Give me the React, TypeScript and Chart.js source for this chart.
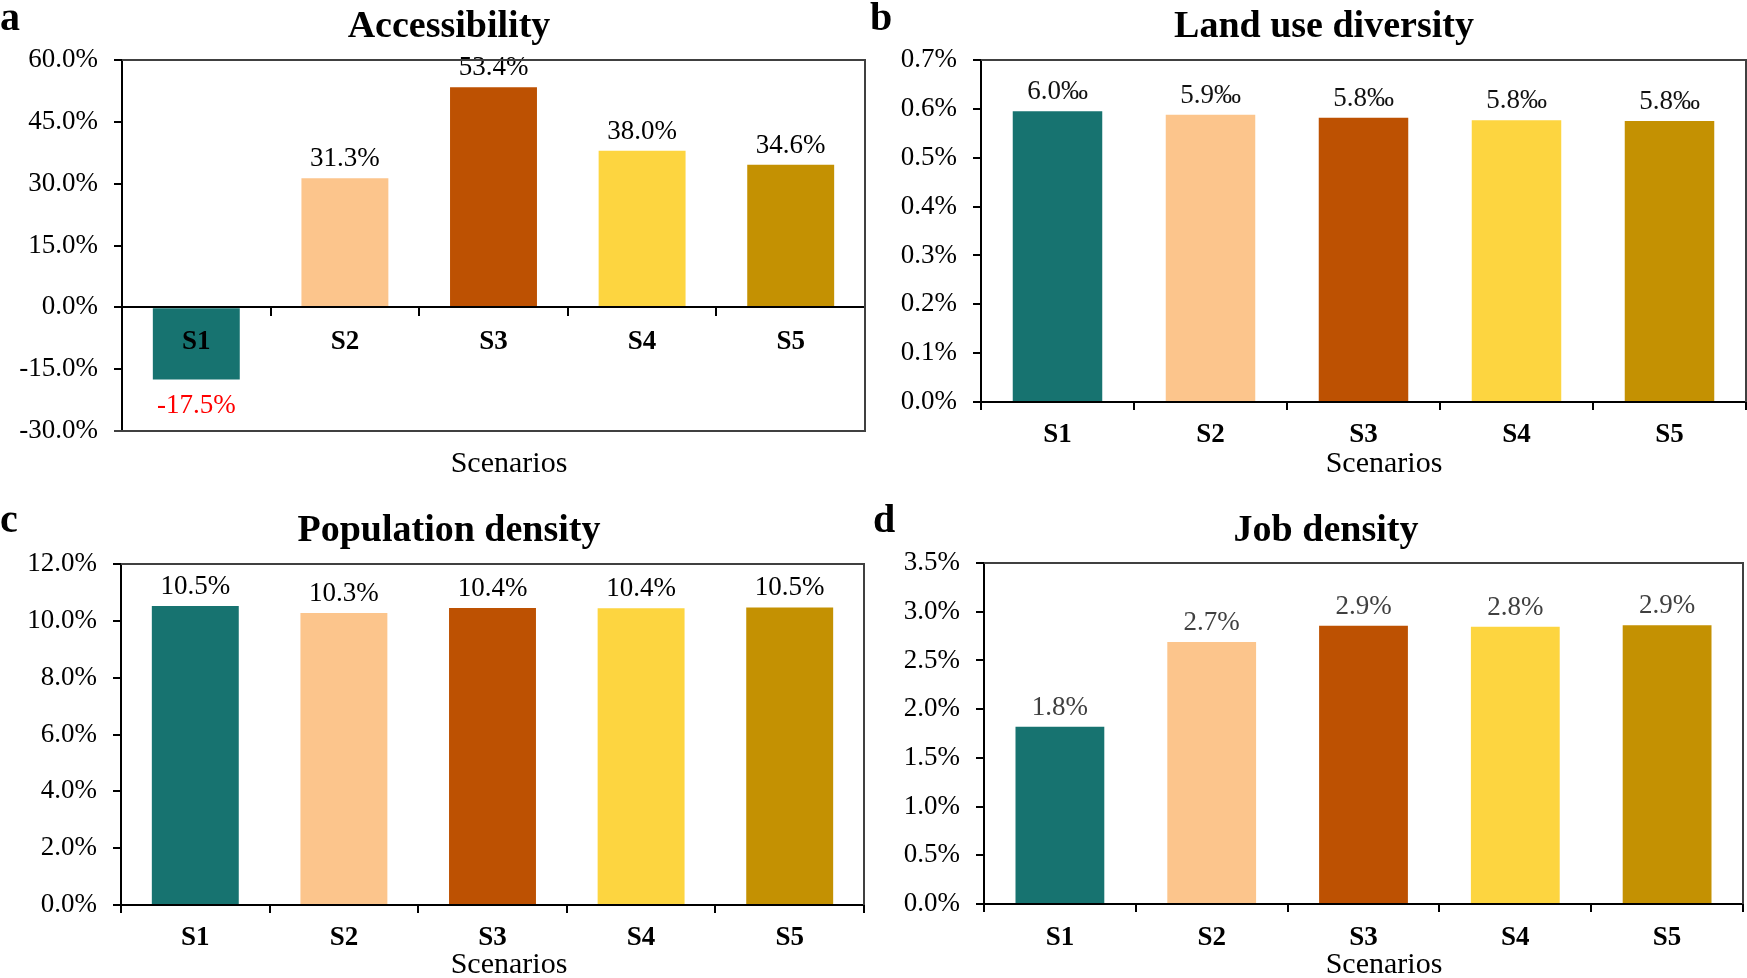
import React, { useEffect, useRef } from "react";
import { Chart, registerables } from "chart.js";

Chart.register(...registerables);
Chart.defaults.font.family = '"Liberation Serif", "Times New Roman", serif';
Chart.defaults.color = "#000";

// ---------------- data ----------------
const scenarios = ["S1", "S2", "S3", "S4", "S5"];
const barColors = ["#177370", "#FCC58C", "#BD5102", "#FDD540", "#C49102"];

const accessibility = [-17.5, 31.3, 53.4, 38.0, 34.6]; // %
const landUseDiversity = [0.5953, 0.5878, 0.5816, 0.5768, 0.5752]; // %
const populationDensity = [10.52, 10.28, 10.45, 10.44, 10.47]; // %
const jobDensity = [1.82, 2.69, 2.855, 2.845, 2.862]; // %

const accessibilityTicks = [-30, -15, 0, 15, 30, 45, 60];
const landUseTicks = [0, 0.1, 0.2, 0.3, 0.4, 0.5, 0.6, 0.7];
const populationTicks = [0, 2, 4, 6, 8, 10, 12];
const jobTicks = [0, 0.5, 1, 1.5, 2, 2.5, 3, 3.5];

const panelTitles = ["Accessibility", "Land use diversity", "Population density", "Job density"];
const panelLetters = ["a", "b", "c", "d"];
const xAxisTitle = "Scenarios";

// ---------------- layout ----------------
type Rect = { x: number; y: number; w: number; h: number };
type Area = { left: number; top: number; right: number; bottom: number };
type Panel = {
  letter: string;
  title: string;
  values: number[];
  ticks: number[];
  fmt: (v: number) => string;
  labelColor: string;
  canvas: Rect;
  area: Area;
  titlePos: [number, number];
  letterPos: [number, number];
  scenPos: [number, number];
  xPad: number;
  zeroAxis: boolean;
};

const pct = (v: number) => v.toFixed(1) + "%";
const permille = (v: number) => (v * 10).toFixed(1) + "\u2030";

const panels: Panel[] = [
  {
    letter: panelLetters[0],
    title: panelTitles[0],
    values: accessibility,
    ticks: accessibilityTicks,
    fmt: pct,
    labelColor: "#000",
    canvas: { x: 0, y: 0, w: 867, h: 489 },
    area: { left: 122, top: 60, right: 865, bottom: 431 },
    titlePos: [449, 37],
    letterPos: [0, 30],
    scenPos: [509, 472],
    xPad: 10,
    zeroAxis: true,
  },
  {
    letter: panelLetters[1],
    title: panelTitles[1],
    values: landUseDiversity,
    ticks: landUseTicks,
    fmt: permille,
    labelColor: "#111",
    canvas: { x: 867, y: 0, w: 880, h: 489 },
    area: { left: 981, top: 60, right: 1746, bottom: 402 },
    titlePos: [1324, 37],
    letterPos: [870, 30],
    scenPos: [1384, 472],
    xPad: 9,
    zeroAxis: false,
  },
  {
    letter: panelLetters[2],
    title: panelTitles[2],
    values: populationDensity,
    ticks: populationTicks,
    fmt: pct,
    labelColor: "#000",
    canvas: { x: 0, y: 489, w: 867, h: 489 },
    area: { left: 121, top: 564, right: 864, bottom: 905 },
    titlePos: [449, 541],
    letterPos: [0, 532],
    scenPos: [509, 973],
    xPad: 9,
    zeroAxis: false,
  },
  {
    letter: panelLetters[3],
    title: panelTitles[3],
    values: jobDensity,
    ticks: jobTicks,
    fmt: pct,
    labelColor: "#404040",
    canvas: { x: 867, y: 489, w: 880, h: 489 },
    area: { left: 984, top: 563, right: 1743, bottom: 904 },
    titlePos: [1326, 541],
    letterPos: [873, 532],
    scenPos: [1384, 973],
    xPad: 10,
    zeroAxis: false,
  },
];

const SERIF = '"Liberation Serif", "Times New Roman", serif';

function makeConfig(p: Panel): any {
  const c = p.canvas;
  const a = p.area;
  const yWidth = a.left - c.x;
  const xHeight = c.y + c.h - a.bottom;

  const valueLabels = {
    id: "valueLabels" + p.letter,
    afterDatasetsDraw(chart: any) {
      const ctx = chart.ctx;
      const meta = chart.getDatasetMeta(0);
      meta.data.forEach((bar: any, i: number) => {
        const v = p.values[i];
        ctx.save();
        ctx.font = `27px ${SERIF}`;
        ctx.textAlign = "center";
        ctx.textBaseline = "alphabetic";
        ctx.fillStyle = v < 0 ? "#FF0000" : p.labelColor;
        const y = v < 0 ? bar.y + 34 : bar.y - 12;
        ctx.fillText(p.fmt(v), bar.x, y);
        ctx.restore();
      });
    },
  };

  const decorations = {
    id: "decor" + p.letter,
    afterDraw(chart: any) {
      const ctx = chart.ctx;
      const ca = chart.chartArea;
      ctx.save();
      // frame (top, right, bottom)
      ctx.strokeStyle = "#404040";
      ctx.lineWidth = 2;
      ctx.beginPath();
      ctx.moveTo(ca.left, ca.top);
      ctx.lineTo(ca.right, ca.top);
      ctx.lineTo(ca.right, ca.bottom);
      if (p.zeroAxis) ctx.lineTo(ca.left - 8, ca.bottom);
      ctx.stroke();
      // title
      ctx.fillStyle = "#000";
      ctx.textBaseline = "alphabetic";
      ctx.textAlign = "center";
      ctx.font = `bold 38px ${SERIF}`;
      ctx.fillText(p.title, p.titlePos[0] - c.x, p.titlePos[1] - c.y);
      // axis title
      ctx.font = `30px ${SERIF}`;
      ctx.fillText(xAxisTitle, p.scenPos[0] - c.x, p.scenPos[1] - c.y);
      // panel letter
      ctx.textAlign = "left";
      ctx.font = `bold 40px ${SERIF}`;
      ctx.fillText(p.letter, p.letterPos[0] - c.x, p.letterPos[1] - c.y);
      ctx.restore();
    },
  };

  return {
    type: "bar",
    data: {
      labels: scenarios,
      datasets: [
        {
          data: p.values,
          backgroundColor: barColors,
          borderWidth: 0,
          categoryPercentage: 1,
          barPercentage: 0.585,
        },
      ],
    },
    options: {
      animation: false,
      responsive: false,
      maintainAspectRatio: false,
      devicePixelRatio: 1,
      layout: {
        padding: {
          top: a.top - c.y,
          right: c.x + c.w - a.right,
          left: 0,
          bottom: p.zeroAxis ? xHeight : 0,
        },
      },
      plugins: {
        legend: { display: false },
        title: { display: false },
        tooltip: { enabled: false },
      },
      scales: {
        x: {
          type: "category",
          position: p.zeroAxis ? { y: 0 } : "bottom",
          grid: {
            drawOnChartArea: false,
            drawTicks: true,
            tickLength: 8,
            color: "#000",
            lineWidth: 2,
            offset: true,
            z: 1,
          },
          border: { display: true, color: "#000", width: 2, z: 1 },
          ticks: {
            font: { size: 27, weight: "bold", family: SERIF },
            color: "#000",
            padding: p.xPad,
            maxRotation: 0,
            autoSkip: false,
            z: 1,
          },
          afterFit(scale: any) {
            scale.height = p.zeroAxis ? 0 : xHeight;
          },
        },
        y: {
          type: "linear",
          position: "left",
          min: p.ticks[0],
          max: p.ticks[p.ticks.length - 1],
          afterBuildTicks(scale: any) {
            scale.ticks = p.ticks.map((value) => ({ value }));
          },
          grid: {
            drawOnChartArea: false,
            drawTicks: true,
            tickLength: 8,
            color: "#000",
            lineWidth: 2,
          },
          border: { display: true, color: "#000", width: 2 },
          ticks: {
            font: { size: 27, family: SERIF },
            color: "#000",
            padding: 16,
            callback: (v: any) => Number(v).toFixed(1) + "%",
          },
          afterFit(scale: any) {
            scale.width = yWidth;
          },
        },
      },
    },
    plugins: [valueLabels, decorations],
  };
}

function PanelChart({ p }: { p: Panel }) {
  const ref = useRef<HTMLCanvasElement | null>(null);
  useEffect(() => {
    if (!ref.current) return;
    const chart = new Chart(ref.current, makeConfig(p));
    return () => chart.destroy();
  }, [p]);
  return (
    <canvas
      ref={ref}
      width={p.canvas.w}
      height={p.canvas.h}
      style={{
        position: "absolute",
        left: p.canvas.x,
        top: p.canvas.y,
        width: p.canvas.w,
        height: p.canvas.h,
      }}
    />
  );
}

export default function App() {
  return (
    <div
      style={{
        position: "absolute",
        left: 0,
        top: 0,
        width: 1747,
        height: 978,
        background: "#fff",
        overflow: "hidden",
      }}
    >
      {panels.map((p) => (
        <PanelChart key={p.letter} p={p} />
      ))}
    </div>
  );
}
